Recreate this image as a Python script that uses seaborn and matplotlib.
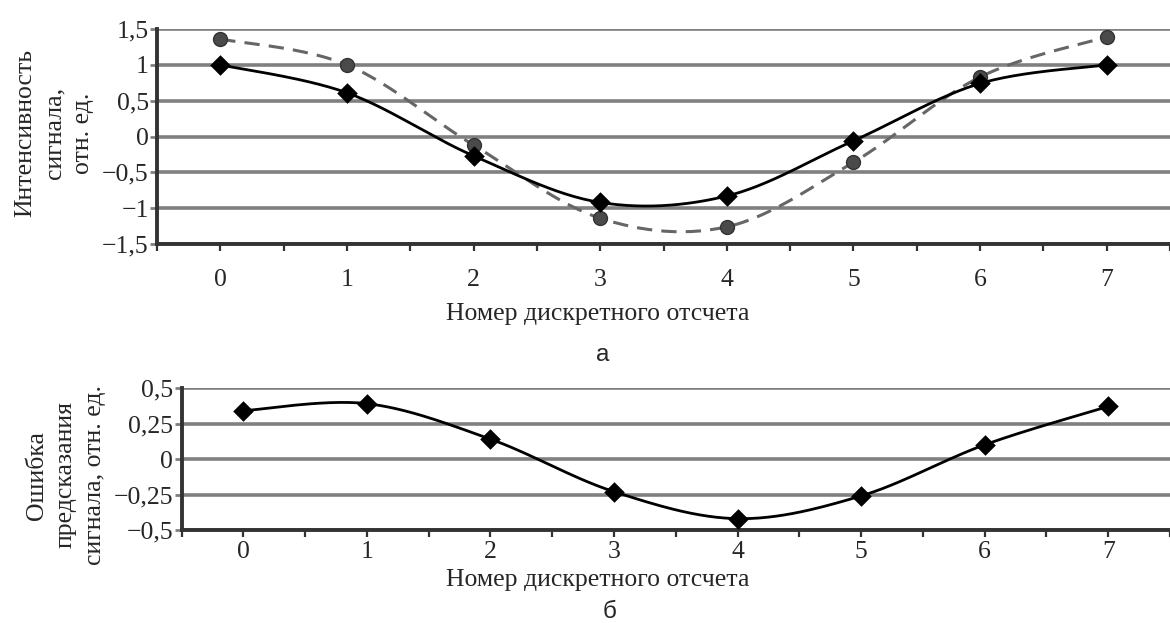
import numpy as np
import pandas as pd
import matplotlib
matplotlib.use("Agg")
import matplotlib.pyplot as plt
import seaborn as sns

# ---- data ----
samples = [0, 1, 2, 3, 4, 5, 6, 7]
signal_actual = [1.00, 0.61, -0.27, -0.92, -0.83, -0.06, 0.74, 1.00]
signal_predicted = [1.36, 1.00, -0.12, -1.14, -1.26, -0.36, 0.83, 1.39]
prediction_error = [0.34, 0.39, 0.14, -0.23, -0.42, -0.26, 0.10, 0.37]

top_yticks = [-1.5, -1.0, -0.5, 0.0, 0.5, 1.0, 1.5]
top_ylabels = ["\u22121,5", "\u22121", "\u22120,5", "0", "0,5", "1", "1,5"]
bot_yticks = [-0.5, -0.25, 0.0, 0.25, 0.5]
bot_ylabels = ["\u22120,5", "\u22120,25", "0", "0,25", "0,5"]

xlabel = "Номер дискретного отсчета"
top_ylabel = "Интенсивность\nсигнала,\nотн. ед."
bot_ylabel = "Ошибка\nпредсказания\nсигнала, отн. ед."

sns.set_theme(style="white")
plt.rcParams['font.family'] = ['Liberation Serif', 'DejaVu Serif']

FS = 18.5


def smooth(x, y, n=30):
    """Excel-like smoothed line (Catmull-Rom Bezier) through the data points."""
    x = np.asarray(x, float)
    y = np.asarray(y, float)
    P = np.column_stack([x, y])
    out = []
    for i in range(len(P) - 1):
        p0 = P[i - 1] if i > 0 else P[i]
        p1 = P[i]
        p2 = P[i + 1]
        p3 = P[i + 2] if i + 2 < len(P) else P[i + 1]
        c1 = p1 + (p2 - p0) / 6.0
        c2 = p2 - (p3 - p1) / 6.0
        t = np.linspace(0, 1, n)[:, None]
        seg = ((1 - t) ** 3) * p1 + 3 * ((1 - t) ** 2) * t * c1 + 3 * (1 - t) * t ** 2 * c2 + t ** 3 * p2
        out.append(seg if i == 0 else seg[1:])
    s = np.vstack(out)
    return s[:, 0], s[:, 1]


fig = plt.figure(figsize=(11.7, 6.23), dpi=100)
ax1 = fig.add_axes([157 / 1170, 1 - 244 / 623, 1 - 157 / 1170, (244 - 29) / 623])
ax2 = fig.add_axes([181.5 / 1170, 1 - 530 / 623, 1 - 181.5 / 1170, (530 - 388) / 623])

grid_color = "#808080"
spine_color = "#333333"


def style_axes(ax, yticks, ylabels, ylim, xmax, xpad):
    ax.set_xlim(-0.5, xmax)
    ax.set_ylim(*ylim)
    ax.set_yticks(yticks)
    ax.set_yticklabels(ylabels)
    ax.set_xticks(samples)
    ax.set_xticklabels([str(s) for s in samples])
    ax.set_xticks(np.arange(-0.5, 7.6, 0.5), minor=True)
    for y in yticks:
        ax.axhline(y, color=grid_color, lw=2.6, zorder=1)
    for s in ["top", "right"]:
        ax.spines[s].set_visible(False)
    for s in ["left", "bottom"]:
        ax.spines[s].set_color(spine_color)
        ax.spines[s].set_linewidth(2.8)
        ax.spines[s].set_zorder(2)
    ax.tick_params(axis="y", which="major", direction="out", length=5, width=2,
                   color=grid_color, labelsize=FS, pad=1, left=True)
    ax.tick_params(axis="x", which="both", direction="out", length=5, width=1.6,
                   color=spine_color, bottom=True)
    ax.tick_params(axis="x", which="major", labelsize=FS, pad=xpad)
    ax.set_xlabel("")
    ax.set_ylabel("")


# ---- top chart ----
style_axes(ax1, top_yticks, top_ylabels, (-1.5, 1.5), 7.47, 13)
sx, sy = smooth(samples, signal_predicted)
ax1.plot(sx, sy, color="#666666", lw=2.2, ls=(0, (5, 3)), zorder=3)
sx, sy = smooth(samples, signal_actual)
ax1.plot(sx, sy, color="#000000", lw=2.0, zorder=4)
df_top = pd.DataFrame({"x": samples, "act": signal_actual, "pred": signal_predicted})
sns.scatterplot(data=df_top, x="x", y="pred", ax=ax1, marker="o", s=100,
                color="#4a4a4a", edgecolor="#333333", linewidth=1, zorder=5, legend=False)
sns.scatterplot(data=df_top, x="x", y="act", ax=ax1, marker="D", s=110,
                color="#000000", edgecolor="#000000", linewidth=0, zorder=6, legend=False)
ax1.set_xlabel("")
ax1.set_ylabel("")

# ---- bottom chart ----
style_axes(ax2, bot_yticks, bot_ylabels, (-0.5, 0.5), 7.41, 3)
sx, sy = smooth(samples, prediction_error)
ax2.plot(sx, sy, color="#000000", lw=2.0, zorder=4)
df_bot = pd.DataFrame({"x": samples, "err": prediction_error})
sns.scatterplot(data=df_bot, x="x", y="err", ax=ax2, marker="D", s=110,
                color="#000000", edgecolor="#000000", linewidth=0, zorder=6, legend=False)
ax2.set_xlabel("")
ax2.set_ylabel("")

# ---- labels ----
fig.text(598 / 1170, 1 - 314 / 623, xlabel, ha="center", va="center", fontsize=FS)
fig.text(603 / 1170, 1 - 355 / 623, "а", ha="center", va="center", fontsize=FS - 1,
         family=["Liberation Sans", "DejaVu Sans"])
fig.text(598 / 1170, 1 - 580 / 623, xlabel, ha="center", va="center", fontsize=FS)
fig.text(610 / 1170, 1 - 612 / 623, "б", ha="center", va="center", fontsize=FS - 1,
         family=["Liberation Sans", "DejaVu Sans"])

fig.text(54 / 1170, 1 - 133 / 623, top_ylabel, ha="center", va="center", rotation=90,
         fontsize=FS, linespacing=1.4, multialignment="center")
fig.text(66 / 1170, 1 - 475 / 623, bot_ylabel, ha="center", va="center", rotation=90,
         fontsize=FS, linespacing=1.4, multialignment="center")

fig.savefig("out.png", dpi=100, facecolor="white")
